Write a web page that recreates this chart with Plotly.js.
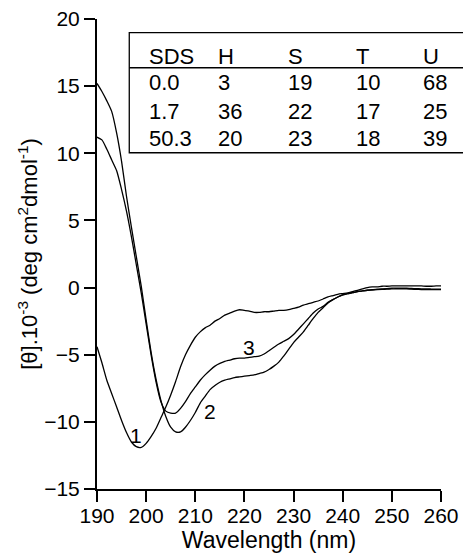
<!DOCTYPE html>
<html>
<head>
<meta charset="utf-8">
<script src="https://cdn.plot.ly/plotly-3.0.1.min.js"></script>
<style>
  html, body { margin: 0; padding: 0; background: #fff; }
  #chart { width: 463px; height: 559px; }
</style>
</head>
<body>
<div id="chart"></div>
<script>
// Wavelength grid (nm)
const wavelength = [190,191,192,193,194,195,196,197,198,199,200,201,202,203,204,205,206,207,208,209,210,
  211,212,213,214,215,216,217,218,219,220,221,222,223,224,225,226,227,228,229,230,
  231,232,233,234,235,236,237,238,239,240,241,242,243,244,245,246,247,248,249,250,
  251,252,253,254,255,256,257,258,259,260];

// Curve 1: SDS 0.0 mM
const curve1 = [-4.4,-5.6,-6.9,-7.9,-8.9,-9.9,-10.8,-11.5,-11.85,-11.9,-11.6,-11.1,-10.5,-9.7,-8.9,-8.0,-7.0,-5.9,-5.0,-4.3,-3.7,
  -3.3,-3.0,-2.8,-2.5,-2.3,-2.05,-1.9,-1.75,-1.65,-1.7,-1.75,-1.85,-1.85,-1.8,-1.8,-1.75,-1.7,-1.7,-1.65,-1.55,
  -1.45,-1.3,-1.2,-1.1,-1.0,-0.85,-0.7,-0.6,-0.5,-0.45,-0.4,-0.3,-0.2,-0.1,0.0,0.05,0.05,0.1,0.1,0.12,
  0.12,0.13,0.13,0.13,0.13,0.12,0.1,0.1,0.12,0.13];

// Curve 2: SDS 1.7 mM
const curve2 = [15.2,14.6,13.9,13.1,11.5,9.4,6.8,4.5,2.3,0.1,-2.4,-4.8,-6.8,-8.4,-9.6,-10.4,-10.75,-10.75,-10.4,-9.9,-9.3,
  -8.6,-8.1,-7.6,-7.3,-7.05,-6.9,-6.8,-6.7,-6.65,-6.6,-6.55,-6.5,-6.4,-6.3,-6.1,-5.85,-5.55,-5.1,-4.6,-4.1,
  -3.7,-3.3,-2.8,-2.3,-1.85,-1.5,-1.15,-0.9,-0.7,-0.55,-0.45,-0.38,-0.3,-0.25,-0.2,-0.16,-0.12,-0.1,-0.08,-0.05,
  -0.05,-0.05,-0.05,-0.07,-0.08,-0.1,-0.1,-0.11,-0.12,-0.12];

// Curve 3: SDS 50.3 mM
const curve3 = [11.2,11.0,10.3,9.5,8.7,7.3,5.7,3.8,1.7,-0.4,-2.7,-5.0,-7.0,-8.5,-9.2,-9.35,-9.35,-9.0,-8.5,-7.9,-7.4,
  -6.9,-6.5,-6.15,-5.85,-5.65,-5.5,-5.4,-5.3,-5.25,-5.25,-5.2,-5.15,-5.1,-4.95,-4.7,-4.45,-4.2,-4.0,-3.8,-3.5,
  -3.1,-2.7,-2.3,-1.9,-1.6,-1.4,-1.1,-0.9,-0.7,-0.55,-0.45,-0.38,-0.3,-0.25,-0.2,-0.18,-0.15,-0.13,-0.12,-0.1,
  -0.1,-0.1,-0.1,-0.12,-0.13,-0.15,-0.15,-0.15,-0.15,-0.15];

// Curve labels
const curveLabels = ['1', '2', '3'];
const labelX = [198.0, 213.0, 221.0];
const labelY = [-11.0, -9.24, -4.44];

// Inset table
const tableHeader = ['SDS', 'H', 'S', 'T', 'U'];
const tableRows = [
  ['0.0', '3', '19', '10', '68'],
  ['1.7', '36', '22', '17', '25'],
  ['50.3', '20', '23', '18', '39']
];

const FONT = 'Liberation Sans, Arial, Helvetica, sans-serif';

const traces = [curve1, curve2, curve3].map(function (ys) {
  return {
    x: wavelength, y: ys, type: 'scatter', mode: 'lines',
    line: { color: '#000', width: 1.3, shape: 'spline', smoothing: 0.6 },
    hoverinfo: 'skip', showlegend: false
  };
});

// table layout (paper coordinates)
const colX = [0.145, 0.347, 0.550, 0.748, 0.943];
const headerY = 0.9197;
const rowY = [0.8644, 0.8033, 0.7466];

const annotations = [];
curveLabels.forEach(function (t, i) {
  annotations.push({ x: labelX[i], y: labelY[i], xref: 'x', yref: 'y', text: t,
    showarrow: false, font: { family: FONT, size: 21, color: '#000' } });
});
tableHeader.forEach(function (t, j) {
  annotations.push({ x: colX[j], y: headerY, xref: 'paper', yref: 'paper', text: t,
    xanchor: 'left', yanchor: 'middle', showarrow: false,
    font: { family: FONT, size: 22, color: '#000' } });
});
tableRows.forEach(function (row, i) {
  row.forEach(function (t, j) {
    annotations.push({ x: colX[j], y: rowY[i], xref: 'paper', yref: 'paper', text: t,
      xanchor: 'left', yanchor: 'middle', showarrow: false,
      font: { family: FONT, size: 22, color: '#000' } });
  });
});

const shapes = [
  { type: 'rect', xref: 'paper', yref: 'paper', x0: 0.0938, x1: 1.12, y0: 0.7154, y1: 0.9708,
    line: { color: '#000', width: 1.3 }, fillcolor: 'rgba(0,0,0,0)' },
  { type: 'line', xref: 'paper', yref: 'paper', x0: 0.0938, x1: 1.12, y0: 0.8963, y1: 0.8963,
    line: { color: '#000', width: 1.3 } }
];

const layout = {
  width: 463, height: 559,
  margin: { l: 97, r: 22, t: 19, b: 70, pad: 0 },
  paper_bgcolor: '#fff', plot_bgcolor: '#fff',
  font: { family: FONT, size: 21, color: '#000' },
  xaxis: {
    range: [190, 260], tickvals: [190,200,210,220,230,240,250,260],
    showline: true, linecolor: '#000', linewidth: 2, mirror: false,
    ticks: 'outside', ticklen: 11, tickwidth: 2, tickcolor: '#000',
    ticklabelstandoff: -4,
    showgrid: false, zeroline: false,
    tickfont: { family: FONT, size: 21, color: '#000' },
    title: { text: 'Wavelength (nm)', font: { family: FONT, size: 23, color: '#000' }, standoff: 6 }
  },
  yaxis: {
    range: [-15, 20], tickvals: [-15,-10,-5,0,5,10,15,20],
    showline: true, linecolor: '#000', linewidth: 2, mirror: false,
    ticks: 'outside', ticklen: 11, tickwidth: 2, tickcolor: '#000',
    showgrid: false, zeroline: false,
    tickfont: { family: FONT, size: 21, color: '#000' },
    title: { text: '[θ].10<sup>-3</sup> (deg cm<sup>2</sup>dmol<sup>-1</sup>)',
      font: { family: FONT, size: 22, color: '#000' }, standoff: 0 }
  },
  annotations: annotations,
  shapes: shapes
};

Plotly.newPlot('chart', traces, layout, { displayModeBar: false, staticPlot: true });
</script>
</body>
</html>
